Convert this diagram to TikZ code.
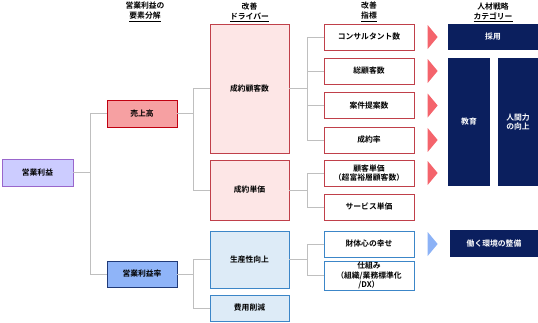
\documentclass[tikz,border=0pt]{standalone}
\usepackage{fontspec}
\setmainfont{Noto Sans CJK JP}[BoldFont={Noto Sans CJK JP Bold}]
\usetikzlibrary{positioning,shapes.geometric}

\definecolor{lineg}{HTML}{BFBFBF}
\definecolor{navy}{HTML}{0B1F5E}
\definecolor{redb}{HTML}{C0404A}
\definecolor{redf}{HTML}{FDE6E6}
\definecolor{blueb}{HTML}{3C86C8}
\definecolor{bluef}{HTML}{DDEBF7}
\definecolor{redtri}{HTML}{F4646C}
\definecolor{bluetri}{HTML}{8CB2F6}
\definecolor{lavf}{HTML}{CCCCFF}
\definecolor{lavb}{HTML}{9966CC}
\definecolor{salesf}{HTML}{F6A0A2}
\definecolor{salesb}{HTML}{C00010}
\definecolor{marginf}{HTML}{8FB4F8}
\definecolor{marginb}{HTML}{203A78}

\begin{document}
\begin{tikzpicture}[
  x=1pt, y=-1pt,
  font=\fontsize{7.8}{9.5}\selectfont\bfseries,
  basebox/.style={
    draw, thick, inner sep=1pt,
    align=center, anchor=center
  },
  rootbox/.style={
    basebox, fill=lavf, draw=lavb,
    minimum width=71, minimum height=27
  },
  salesbox/.style={
    basebox, fill=salesf, draw=salesb,
    minimum width=70, minimum height=27
  },
  marginbox/.style={
    basebox, fill=marginf, draw=marginb,
    minimum width=70, minimum height=26
  },
  drvbox/.style={
    basebox, fill=redf, draw=redb,
    minimum width=79
  },
  bluedrv/.style={
    basebox, fill=bluef, draw=blueb,
    minimum width=79
  },
  kpibox/.style={
    basebox, fill=white, draw=redb,
    minimum width=90, minimum height=26
  },
  bluekpi/.style={
    basebox, fill=white, draw=blueb,
    minimum width=90, minimum height=26
  },
  catbox/.style={
    basebox, draw=none, fill=navy, text=white
  },
  pointer/.style={
    isosceles triangle, isosceles triangle stretches,
    minimum width=24, minimum height=10, inner sep=0pt,
    draw=none, fill=#1
  },
  headlbl/.style={align=center, font=\fontsize{7.8}{10}\selectfont\bfseries},
  conn/.style={draw=lineg, thick}
]
\useasboundingbox (0,0) rectangle (538,322);

% =============================================================
% headers
% =============================================================
\node[headlbl] (hdecomp) at (145,12) {営業利益の\\\underline{要素分解}};
\node[headlbl] (hdriver) at (249.5,12) {改善\\\underline{ドライバー}};
\node[headlbl] (hkpi) at (369,12) {改善\\\underline{指標}};
\node[headlbl] (hcat) at (493,12) {人材戦略\\\underline{カテゴリー}};

% =============================================================
% tree: profit -> sales / margin
% =============================================================
\node[rootbox] (profit) at (37.5,172.5) {営業利益};
\node[salesbox] (sales) at (142,113.5) {売上高};
\node[marginbox] (margin) at (142,274) {営業利益率};

% drivers
\node[drvbox, minimum height=129] (custnum) at (249.5,88.5) {成約顧客数};
\node[drvbox, minimum height=60] (unitprice) at (249.5,190) {成約単価};
\node[bluedrv, minimum height=57] (product) at (249.5,259.5) {生産性向上};
\node[bluedrv, minimum height=26] (costcut) at (249.5,308) {費用削減};

% indicators
\node[kpibox] (consult) at (369,37) {コンサルタント数};
\node[kpibox] (totalcust) at (369,71) {総顧客数};
\node[kpibox] (proposal) at (369,105.5) {案件提案数};
\node[kpibox] (closerate) at (369,140) {成約率};
\node[kpibox] (custprice) at (369,173) {顧客単価\\（超富裕層顧客数）};
\node[kpibox] (servprice) at (369,207) {サービス単価};
\node[bluekpi] (wellbeing) at (369,244) {財体心の幸せ};
\node[bluekpi] (system) at (369,275.5) {仕組み\\（組織/業務標準化\\/DX）};

% pointers
\foreach \yy/\nm in {37/p1, 71/p2, 105.5/p3, 140/p4, 173/p5}
  \node[pointer=redtri] (\nm) at (432,\yy) {};
\node[pointer=bluetri] (p6) at (432,244) {};

% categories
\node[catbox, minimum width=90, minimum height=26] (hire) at (493,37) {採用};
\node[catbox, minimum width=42, minimum height=128] (edu) at (469,122) {教育};
\node[catbox, minimum width=40, minimum height=128] (human) at (518,122) {人間力\\の向上};
\node[catbox, minimum width=88, minimum height=27] (workenv) at (494,243.5) {働く環境の整備};

% =============================================================
% connectors
% =============================================================
\draw[conn] (profit.east) -- ++(17,0) |- (sales.west);
\draw[conn] (profit.east) -- ++(17,0) |- (margin.west);

\draw[conn] (sales.east) -- ++(16,0) |- (custnum.west);
\draw[conn] (sales.east) -- ++(16,0) |- (unitprice.west);
\draw[conn] (margin.east) -- ++(16,0) |- (product.west);
\draw[conn] (margin.east) -- ++(16,0) |- (costcut.west);

\foreach \kk in {consult, totalcust, proposal, closerate}
  \draw[conn] (custnum.east) -- ++(18,0) |- (\kk.west);
\foreach \kk in {custprice, servprice}
  \draw[conn] (unitprice.east) -- ++(18,0) |- (\kk.west);
\foreach \kk in {wellbeing, system}
  \draw[conn] (product.east) -- ++(18,0) |- (\kk.west);

\end{tikzpicture}
\end{document}
